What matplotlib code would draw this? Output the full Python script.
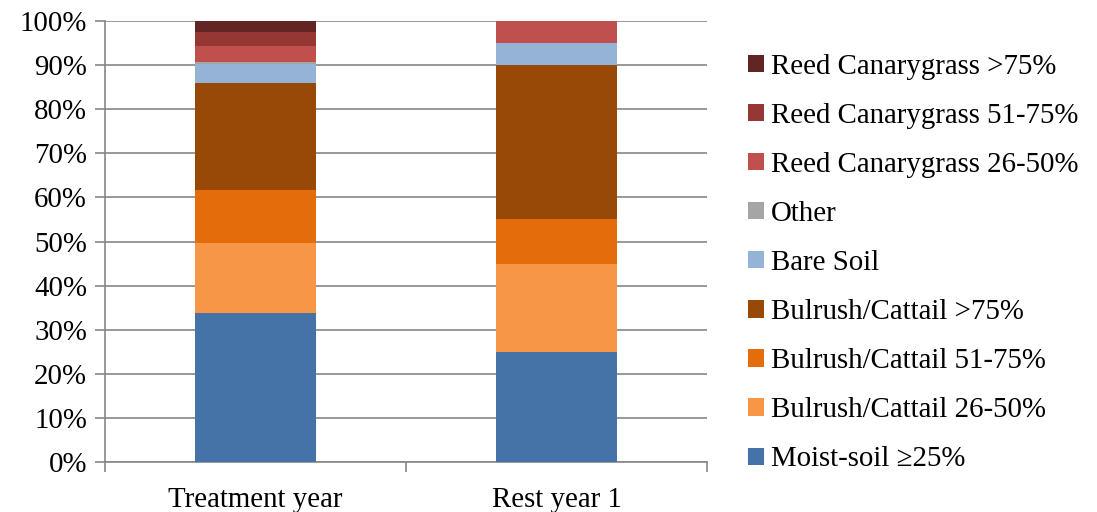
import numpy as np
import matplotlib.pyplot as plt
from matplotlib.ticker import FixedLocator

plt.rcParams['font.family'] = ['Liberation Serif', 'DejaVu Serif']

categories = ['Treatment year', 'Rest year 1']
series = ['Moist-soil \u226525%', 'Bulrush/Cattail 26-50%', 'Bulrush/Cattail 51-75%',
          'Bulrush/Cattail >75%', 'Bare Soil', 'Other',
          'Reed Canarygrass 26-50%', 'Reed Canarygrass 51-75%', 'Reed Canarygrass >75%']
values = [
    [33.8, 25.0],
    [15.9, 20.0],
    [12.0, 10.0],
    [24.2, 35.0],
    [4.3, 5.0],
    [0.6, 0.0],
    [3.6, 5.0],
    [3.2, 0.0],
    [2.4, 0.0],
]
colors = ['#4572A7', '#F79646', '#E46C0A', '#984807', '#95B3D7', '#A5A5A5',
          '#C0504D', '#953735', '#632523']

fig = plt.figure(figsize=(10.97, 5.12), dpi=100)
ax = fig.add_axes([105 / 1097, 50 / 512, 602 / 1097, 441 / 512])

x = np.arange(len(categories))
bottom = np.zeros(len(categories))
for name, vals, c in zip(series, values, colors):
    vals = np.array(vals)
    ax.bar(x, vals, 0.4, bottom=bottom, color=c, label=name, zorder=3)
    bottom += vals

fs = 20.8
ax.set_xlim(-0.5, 1.5)
ax.set_ylim(0, 100)
ax.set_yticks(np.arange(0, 101, 10))
ax.set_yticklabels(['%d%%' % v for v in range(0, 101, 10)], fontsize=fs)
ax.yaxis.grid(True, color='#868686', linewidth=1.2, zorder=0)
ax.set_xticks(x)
ax.set_xticklabels(categories, fontsize=fs)
ax.xaxis.set_minor_locator(FixedLocator([-0.5, 0.5, 1.5]))
ax.tick_params(axis='x', which='major', length=0, pad=18)
ax.tick_params(axis='x', which='minor', length=7, color='#868686', width=1.2)
ax.tick_params(axis='y', length=7, color='#868686', width=1.2, pad=6)
for s in ['top', 'right']:
    ax.spines[s].set_visible(False)
for s in ['left', 'bottom']:
    ax.spines[s].set_color('#868686')
    ax.spines[s].set_linewidth(1.2)

h, l = ax.get_legend_handles_labels()
fig.legend(h[::-1], l[::-1], loc='center left', bbox_to_anchor=(734 / 1097, 1 - 263 / 512),
           frameon=False, fontsize=fs, handlelength=0.55, handleheight=0.55,
           handletextpad=0.22, labelspacing=0.8, borderpad=0)

fig.savefig('out.png', dpi=100)
